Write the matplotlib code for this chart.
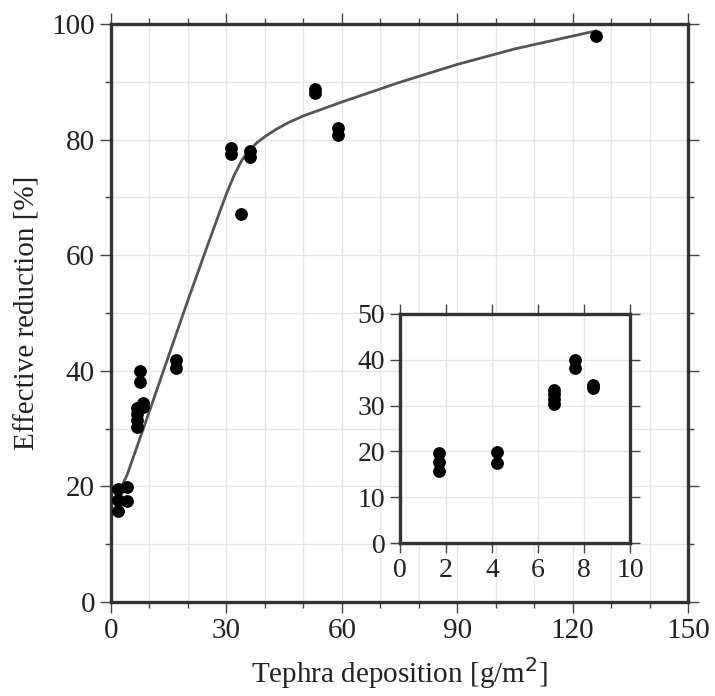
import matplotlib
matplotlib.use("Agg")
import matplotlib.pyplot as plt
from matplotlib.ticker import MultipleLocator
import numpy as np

# Data
deposition = [1.7, 1.7, 1.7, 4.2, 4.2, 6.7, 6.7, 6.7, 6.7, 7.6, 7.6, 8.4, 8.4,
              16.9, 16.9, 31.3, 31.3, 33.7, 36.2, 36.2, 53.0, 53.0, 58.9, 58.9, 126.1]
reduction = [15.7, 17.7, 19.6, 17.5, 19.9, 30.3, 31.5, 32.5, 33.5, 38.1, 40.0, 33.8, 34.5,
             40.5, 41.9, 77.5, 78.5, 67.2, 77.0, 78.0, 88.0, 88.8, 80.8, 82.0, 97.9]

# Fitted curve
curve_x = [1.7, 4.2, 10, 20, 25, 28, 30, 32, 34, 36, 38, 40, 43, 46, 50, 60, 75, 90, 105, 126]
curve_y = [18.5, 22.0, 33.0, 52.2, 61.5, 67.0, 70.6, 73.8, 76.4, 78.2, 79.5, 80.5, 81.8, 82.9,
           84.1, 86.5, 89.9, 93.0, 95.7, 98.8]

main_xticks = [0, 30, 60, 90, 120, 150]
main_yticks = [0, 20, 40, 60, 80, 100]
inset_xticks = [0, 2, 4, 6, 8, 10]
inset_yticks = [0, 10, 20, 30, 40, 50]

plt.rcParams['font.family'] = ['Liberation Serif', 'DejaVu Serif']

fig = plt.figure(figsize=(7.15, 6.96), dpi=100)
ax = fig.add_axes([0.1552, 0.1351, 0.807, 0.8304])

spine_c = '#333333'
grid_c = '#e6e6e6'

def style(a, fs):
    for s in a.spines.values():
        s.set_color(spine_c)
        s.set_linewidth(2.4)
    a.tick_params(which='both', direction='out', top=True, right=True,
                  labeltop=False, labelright=False, color='#444444', width=1.0,
                  labelsize=fs, labelcolor='#222222')
    a.tick_params(which='major', length=8)
    a.tick_params(which='minor', length=4)
    a.set_axisbelow(True)

ax.plot(curve_x, curve_y, color='#555555', lw=2.0, zorder=2)
ax.scatter(deposition, reduction, s=85, color='black', zorder=3, linewidths=0)
ax.set_xlim(0, 150)
ax.set_ylim(0, 100)
ax.set_xticks(main_xticks)
ax.set_yticks(main_yticks)
ax.xaxis.set_minor_locator(MultipleLocator(10))
ax.yaxis.set_minor_locator(MultipleLocator(10))
ax.grid(which='both', color=grid_c, lw=1.0)
style(ax, 21)
ax.set_xlabel('Tephra deposition [g/m$^{2}$]', fontsize=21, color='#222222', labelpad=8)
ax.set_ylabel('Effective reduction [%]', fontsize=21, color='#222222', labelpad=8)

# Inset
axi = fig.add_axes([0.5594, 0.2198, 0.3217, 0.3291])
dx = np.array(deposition)
dy = np.array(reduction)
m = dx < 10
axi.scatter(dx[m], dy[m], s=85, color='black', zorder=3, linewidths=0)
axi.set_xlim(0, 10)
axi.set_ylim(0, 50)
axi.set_xticks(inset_xticks)
axi.set_yticks(inset_yticks)
axi.grid(which='major', color=grid_c, lw=1.0)
style(axi, 20)
axi.tick_params(which='major', length=7)

fig.savefig('out.png', dpi=100, facecolor='white')
